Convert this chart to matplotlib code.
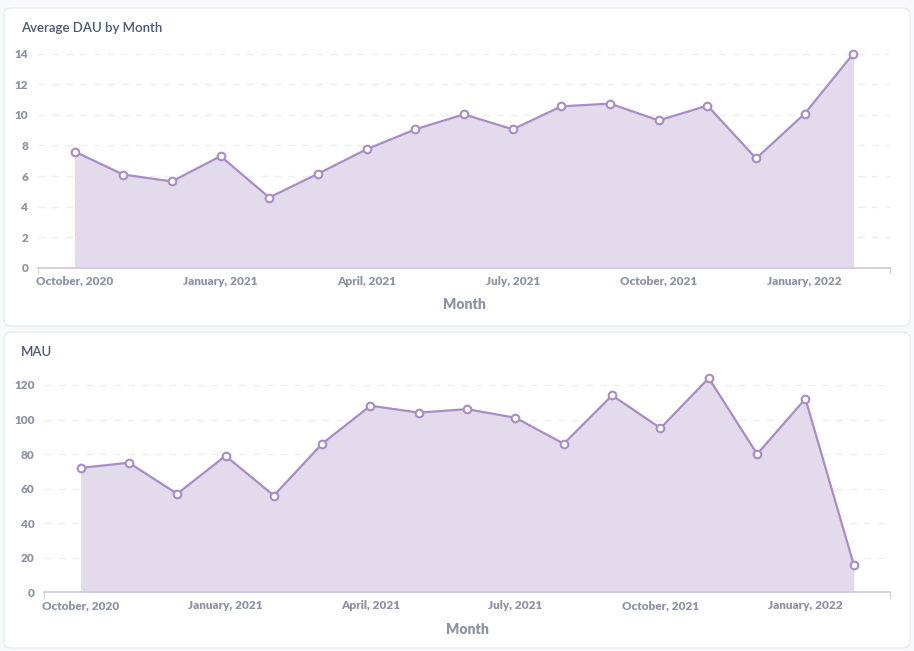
import matplotlib
matplotlib.use("Agg")
import matplotlib.pyplot as plt
from matplotlib.patches import FancyBboxPatch

plt.rcParams['font.family'] = ['Lato', 'DejaVu Sans']

# data
months = ["Oct 2020", "Nov 2020", "Dec 2020", "Jan 2021", "Feb 2021", "Mar 2021",
          "Apr 2021", "May 2021", "Jun 2021", "Jul 2021", "Aug 2021", "Sep 2021",
          "Oct 2021", "Nov 2021", "Dec 2021", "Jan 2022", "Feb 2022"]
dau = [7.6, 6.1, 5.65, 7.3, 4.6, 6.15, 7.75, 9.05, 10.03, 9.05, 10.55, 10.73,
       9.63, 10.6, 7.15, 10.08, 14.0]
mau = [72, 75, 57, 79, 56, 86, 108, 104, 106, 101, 86, 114, 95, 124, 80, 112, 16]
tick_idx = [0, 3, 6, 9, 12, 15]
tick_labels = ["October, 2020", "January, 2021", "April, 2021", "July, 2021",
               "October, 2021", "January, 2022"]

LINE = "#a98bc6"
FILL = "#e3dbec"
TXT = "#8d93a5"
TITLE = "#4c5773"

W, H = 914, 651
fig = plt.figure(figsize=(W / 100, H / 100), dpi=100, facecolor="#f8f9fb")


def card(x0, y0, x1, y1):
    p = FancyBboxPatch((x0 / W, 1 - y1 / H), (x1 - x0) / W, (y1 - y0) / H,
                       boxstyle="round,pad=0,rounding_size=0.009",
                       transform=fig.transFigure, facecolor="white",
                       edgecolor="#e9ebef", linewidth=1.0, zorder=-5)
    fig.patches.append(p)


def panel(rect, values, ylim, yticks, title, title_y, xlab_y):
    ax = fig.add_axes(rect)
    ax.set_zorder(2)
    x = list(range(len(values)))
    ax.fill_between(x, values, 0, color=FILL, linewidth=0, zorder=1)
    ax.plot(x, values, color=LINE, linewidth=1.6, marker="o", markersize=5.5,
            markerfacecolor="white", markeredgecolor=LINE, markeredgewidth=1.5,
            zorder=3, clip_on=False)
    ax.set_xlim(-0.75, len(values) - 1 + 0.75)
    ax.set_ylim(*ylim)
    ax.set_yticks(yticks)
    ax.set_yticklabels([str(v) for v in yticks], fontweight="heavy",
                       fontsize=8.5, color=TXT)
    ax.set_xticks(tick_idx)
    ax.set_xticklabels(tick_labels, fontweight="heavy", fontsize=8.5, color=TXT)
    for v in yticks[1:]:
        ax.axhline(v, color="#eceef2", linewidth=1, linestyle=(0, (5, 5)), zorder=0)
    for s in ["top", "right", "left"]:
        ax.spines[s].set_visible(False)
    ax.spines["bottom"].set_color("#cfc6e0")
    ax.spines["bottom"].set_linewidth(1.2)
    ax.spines["bottom"].set_zorder(4)
    for ex in (0, 1):
        ax.plot([ex, ex], [0, -0.025], transform=ax.transAxes, color="#d6d8de",
                linewidth=1, clip_on=False)
    ax.tick_params(axis="both", length=0)
    ax.tick_params(axis="x", pad=5.5)
    ax.tick_params(axis="y", pad=7)
    ax.set_facecolor("none")
    fig.text(21 / W, 1 - title_y / H, title, fontsize=9.5, color=TITLE,
             ha="left", va="center", fontweight="semibold")
    fig.text((rect[0] + rect[2] / 2), 1 - xlab_y / H, "Month", fontsize=10,
             color=TXT, ha="center", va="center", fontweight="heavy")
    return ax


card(4, 8, 910, 326)
card(4, 332, 910, 648)

panel([38 / W, 1 - 268 / H, (890 - 38) / W, (268 - 53.5) / H],
      dau, (0, 14), [0, 2, 4, 6, 8, 10, 12, 14], "Average DAU by Month", 28, 305)
panel([44.3 / W, 1 - 592.3 / H, (890 - 44.3) / W, 1.7277 * 130 / H],
      mau, (0, 130), [0, 20, 40, 60, 80, 100, 120], "MAU", 352, 629)

fig.savefig("out.png", dpi=100, facecolor=fig.get_facecolor())
